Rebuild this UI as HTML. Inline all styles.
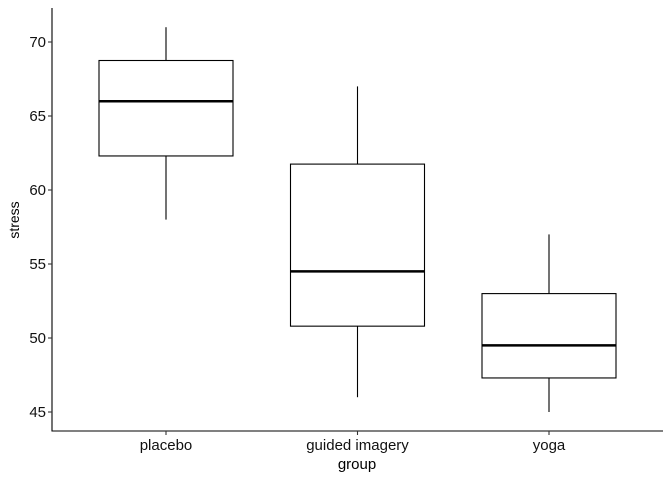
<!DOCTYPE html>
<html><head><meta charset="utf-8"><style>body{margin:0;background:#fff}svg{display:block}text{font-family:"Liberation Sans",Arial,sans-serif}</style></head>
<body>
<svg id="chart" width="672" height="480" viewBox="0 0 672 480"></svg>
<script>
const categories=["placebo","guided imagery","yoga"];
const whiskerLow=[58,46,45];
const q1=[62.3,50.8,47.3];
const median=[66,54.5,49.5];
const q3=[68.75,61.75,53];
const whiskerHigh=[71,67,57];
const yTicks=[45,50,55,60,65,70];

const NS="http://www.w3.org/2000/svg";
const svg=document.getElementById('chart');
const y=v=>412-(v-45)*14.8;
const x=i=>166+i*191.5;
const bw=134;
function mk(tag,attrs,parent){const e=document.createElementNS(NS,tag);for(const k in attrs)e.setAttribute(k,attrs[k]);(parent||svg).appendChild(e);return e;}

const yAxis=mk('line',{x1:52,y1:8,x2:52,y2:431.5,stroke:'#000','stroke-width':1.1});


const xAxis=mk('line',{x1:51.5,y1:431,x2:663,y2:431,stroke:'#000','stroke-width':1.1});



yTicks.forEach(t=>{
  const tk=mk('line',{x1:48,x2:52,y1:y(t),y2:y(t),stroke:'#333','stroke-width':1.1});
  
  
  const lb=mk('text',{x:46,y:y(t)+5,'text-anchor':'end','font-size':15,fill:'#111'});
  lb.textContent=t;
  
  
});

categories.forEach((c,i)=>{
  const g=mk('g',{});
  
  
  const cx=x(i);
  mk('line',{x1:cx,x2:cx,y1:y(whiskerHigh[i]),y2:y(q3[i]),stroke:'#000','stroke-width':1.1},g);
  mk('line',{x1:cx,x2:cx,y1:y(q1[i]),y2:y(whiskerLow[i]),stroke:'#000','stroke-width':1.1},g);
  mk('rect',{x:cx-bw/2,y:y(q3[i]),width:bw,height:y(q1[i])-y(q3[i]),fill:'#fff',stroke:'#000','stroke-width':1.1},g);
  mk('line',{x1:cx-bw/2,x2:cx+bw/2,y1:y(median[i]),y2:y(median[i]),stroke:'#000','stroke-width':2.5},g);
  const tk=mk('line',{x1:cx,x2:cx,y1:431,y2:435,stroke:'#333','stroke-width':1.1});
  
  
  const lb=mk('text',{x:cx,y:450,'text-anchor':'middle','font-size':15,fill:'#111'});
  lb.textContent=c;
  
  
});

const xt=mk('text',{x:357,y:469,'text-anchor':'middle','font-size':15,fill:'#000'});
xt.textContent='group';


const yt=mk('text',{x:19,y:220,'text-anchor':'middle','font-size':14,fill:'#000',transform:'rotate(-90 19 220)'});
yt.textContent='stress';


</script>
</body></html>
